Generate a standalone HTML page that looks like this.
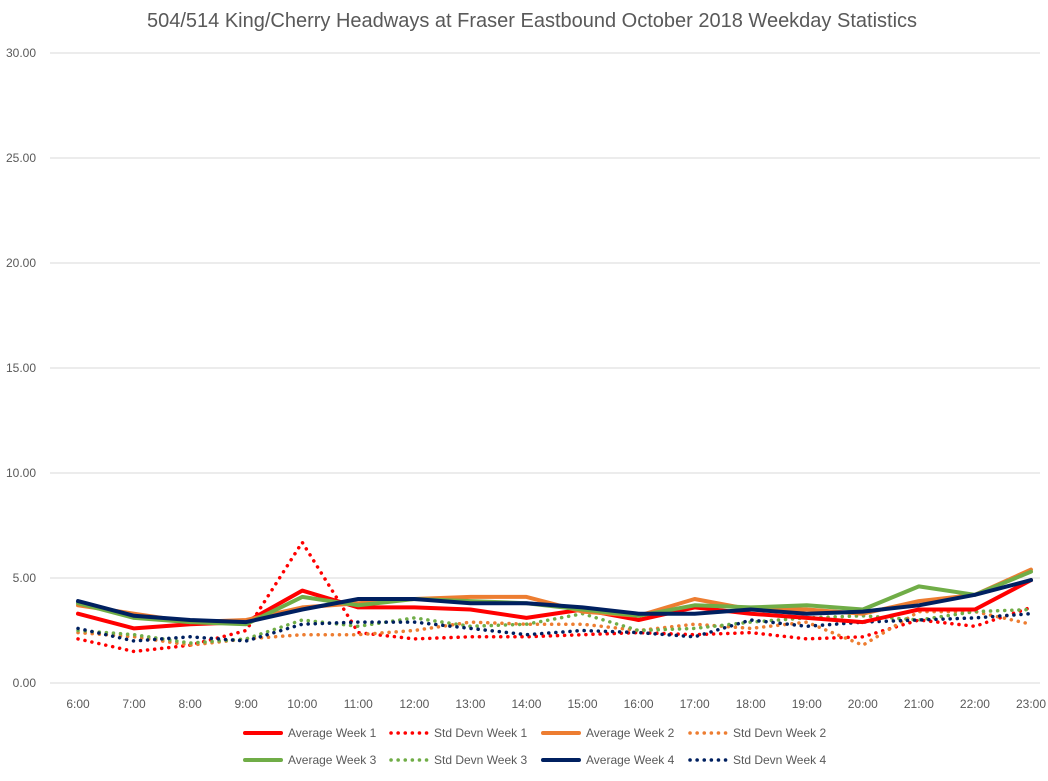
<!DOCTYPE html>
<html><head><meta charset="utf-8"><style>
body{margin:0;background:#fff;font-family:"Liberation Sans",sans-serif;}
svg text{font-family:"Liberation Sans",sans-serif;fill:#595959;}
</style></head><body>
<svg id="chart" width="1048" height="776">
<text x="532" y="27" text-anchor="middle" font-size="20">504/514 King/Cherry Headways at Fraser Eastbound October 2018 Weekday Statistics</text>
<g id="grid"></g><g id="series"></g><g id="legend"></g>
</svg>
<script>
const categories=["6:00","7:00","8:00","9:00","10:00","11:00","12:00","13:00","14:00","15:00","16:00","17:00","18:00","19:00","20:00","21:00","22:00","23:00"];
const yTicks=[0,5,10,15,20,25,30];
const avgW1=[3.3,2.6,2.8,2.9,4.4,3.6,3.6,3.5,3.1,3.5,3.0,3.6,3.3,3.1,2.9,3.5,3.5,4.9];
const sdW1=[2.1,1.5,1.8,2.5,6.7,2.4,2.1,2.2,2.2,2.3,2.4,2.3,2.4,2.1,2.2,3.0,2.7,3.6];
const avgW2=[3.7,3.3,2.9,3.0,3.6,3.8,4.0,4.1,4.1,3.4,3.2,4.0,3.5,3.5,3.3,3.9,4.2,5.4];
const sdW2=[2.4,2.2,1.8,2.1,2.3,2.3,2.5,2.9,2.8,2.8,2.5,2.8,2.6,2.9,1.8,3.4,3.4,2.8];
const avgW3=[3.8,3.1,2.9,2.8,4.1,3.7,4.0,3.9,3.8,3.5,3.2,3.7,3.6,3.7,3.5,4.6,4.2,5.3];
const sdW3=[2.5,2.3,1.9,2.1,3.0,2.7,3.1,2.7,2.8,3.3,2.5,2.6,2.9,3.1,3.2,3.0,3.4,3.5];
const avgW4=[3.9,3.2,3.0,2.9,3.5,4.0,4.0,3.8,3.8,3.6,3.3,3.3,3.5,3.3,3.4,3.7,4.2,4.9];
const sdW4=[2.6,2.0,2.2,2.0,2.8,2.9,2.9,2.6,2.3,2.5,2.4,2.2,3.0,2.7,2.9,3.0,3.1,3.3];
const NS="http://www.w3.org/2000/svg";
const x0=78,x1=1031,yBase=683,yTop=53,yMax=30;
const xs=i=>x0+i*(x1-x0)/(categories.length-1);
const ys=v=>yBase-v*(yBase-yTop)/yMax;
function mk(t,a,p){const e=document.createElementNS(NS,t);for(const k in a)e.setAttribute(k,a[k]);p.appendChild(e);return e;}
const grid=document.getElementById('grid');
yTicks.forEach(v=>{
 const l=mk('line',{x1:50,x2:1040,y1:ys(v),y2:ys(v),stroke:'#d9d9d9','stroke-width':1},grid);
 
 
 const t=mk('text',{x:36,y:ys(v)+4,'text-anchor':'end','font-size':12},grid);t.textContent=v.toFixed(2);
 
 
});
categories.forEach((c,i)=>{
 const t=mk('text',{x:xs(i),y:708,'text-anchor':'middle','font-size':12},grid);t.textContent=c;
 
 
});
const series=[
 {name:"Average Week 1",d:avgW1,c:"#ff0000",dot:false},
 {name:"Std Devn Week 1",d:sdW1,c:"#ff0000",dot:true},
 {name:"Average Week 2",d:avgW2,c:"#ed7d31",dot:false},
 {name:"Std Devn Week 2",d:sdW2,c:"#ed7d31",dot:true},
 {name:"Average Week 3",d:avgW3,c:"#70ad47",dot:false},
 {name:"Std Devn Week 3",d:sdW3,c:"#70ad47",dot:true},
 {name:"Average Week 4",d:avgW4,c:"#002060",dot:false},
 {name:"Std Devn Week 4",d:sdW4,c:"#002060",dot:true}];
const sg=document.getElementById('series');
const order=[1,3,5,7,0,2,4,6];
order.forEach(k=>{const s=series[k];
 const p=mk('polyline',{points:s.d.map((v,i)=>xs(i)+','+ys(v)).join(' '),fill:'none',stroke:s.c,'stroke-width':s.dot?3.5:4,'stroke-linecap':'round','stroke-linejoin':'round','stroke-dasharray':s.dot?'0.1 7':'none'},sg);
 
 
});
const lg=document.getElementById('legend');
const colX=[243,389,541,688];
series.forEach((s,k)=>{
 const r=Math.floor(k/4),c=k%4,y=733+r*27,x=colX[c];
 const g=mk('g',{},lg);
 
 
 mk('line',{x1:x+2,x2:x+38,y1:y,y2:y,stroke:s.c,'stroke-width':s.dot?3.5:4,'stroke-linecap':'round','stroke-dasharray':s.dot?'0.1 7':'none'},g);
 const t=mk('text',{x:x+45,y:y+4,'font-size':12},g);t.textContent=s.name;
});
</script>
</body></html>
